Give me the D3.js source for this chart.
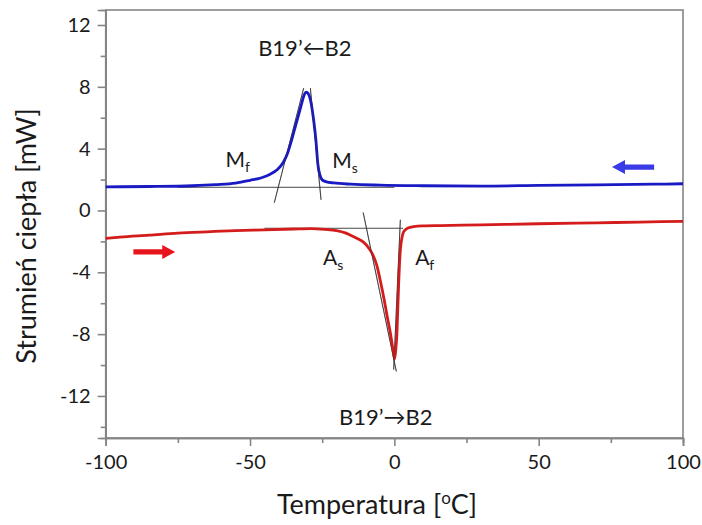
<!DOCTYPE html>
<html><head><meta charset="utf-8">
<script src="https://cdn.jsdelivr.net/npm/d3@7"></script>
<style>
html,body{margin:0;padding:0;background:#fff;}
text{font-family:Lato,"Open Sans",sans-serif;fill:#1a1a1a;}
</style></head>
<body><svg id="c" width="702" height="525"></svg>
<script>
// ---- data ----
const coolingT = [-100,-85,-70,-62,-55,-50,-46,-43,-40.5,-38.5,-37,-36,-34.5,-33,-32,-31.2,-30.5,-29.8,-29,-28,-27.2,-26.5,-25.8,-25,-23.5,-21,-15,-5,10,30,50,70,90,100];
const coolingV = [1.53,1.55,1.6,1.67,1.77,1.95,2.12,2.35,2.65,3.1,3.7,4.3,5.3,6.3,7.0,7.5,7.65,7.55,7.1,5.9,4.6,3.0,2.3,1.98,1.85,1.78,1.7,1.64,1.6,1.58,1.62,1.66,1.7,1.73];
const heatingT = [-100,-95,-85,-75,-65,-55,-45,-35,-29,-24,-20,-17,-15,-12.5,-10.7,-9,-7.5,-6,-4.8,-3.5,-2.5,-1.5,-0.8,-0.2,0.1,0.5,0.9,1.2,1.5,1.8,2.1,2.6,3.2,4.5,6.7,10,16,30,50,70,85,100];
const heatingV = [-1.8,-1.72,-1.6,-1.47,-1.38,-1.3,-1.25,-1.2,-1.17,-1.22,-1.3,-1.45,-1.62,-1.85,-2.05,-2.4,-2.85,-3.6,-4.6,-5.8,-6.85,-7.8,-8.6,-9.3,-9.6,-9.0,-7.9,-6.3,-4.7,-3.4,-2.5,-1.8,-1.38,-1.15,-1.04,-1.0,-0.98,-0.93,-0.86,-0.8,-0.75,-0.7];
// tangent construction lines [T1,V1,T2,V2]
const tangentLines = [
  [-75,1.5,0,1.5],
  [-41.6,0.5,-31.4,7.92],
  [-29.1,7.92,-25.4,0.69],
  [-45,-1.15,3,-1.15],
  [-10.8,-0.13,0.7,-10.42],
  [2.08,-0.6,-0.24,-10.3]
];
const xTicks = [-100,-50,0,50,100];
const xMinor = [-75,-25,25,75];
const yTicks = [12,8,4,0,-4,-8,-12];
const yMinor = [10,6,2,-2,-6,-10,-14];
// arrows: [Tstart, Tend, V]
const redArrow = [-90.4,-75.9,-2.68];
const blueArrow = [90,75.4,2.81];

const svg = d3.select('#c');
const x = d3.scaleLinear().domain([-100,100]).range([105.7,683]);
const y = d3.scaleLinear().domain([-14.72,12.97]).range([438,10]);
const axisCol = '#858585';
const fmt = d => String(d);

// frame
svg.append('rect').attr('x',x(-100)).attr('y',y(12.97)).attr('width',x(100)-x(-100)).attr('height',y(-14.72)-y(12.97))
  .attr('fill','none').attr('stroke',axisCol).attr('stroke-width',1.6);

// axes
const gx = svg.append('g').attr('transform',`translate(0,${y(-14.72)})`);
gx.call(d3.axisBottom(x).tickValues(xTicks).tickSize(8).tickPadding(9).tickFormat(fmt));
const gxm = svg.append('g').attr('transform',`translate(0,${y(-14.72)})`);
gxm.call(d3.axisBottom(x).tickValues(xMinor).tickSize(5).tickFormat(''));
const gy = svg.append('g').attr('transform',`translate(${x(-100)},0)`);
gy.call(d3.axisLeft(y).tickValues(yTicks).tickSize(8).tickPadding(7).tickFormat(fmt));
const gym = svg.append('g').attr('transform',`translate(${x(-100)},0)`);
gym.call(d3.axisLeft(y).tickValues(yMinor).tickSize(5).tickFormat(''));
[gx,gxm,gy,gym].forEach(g=>{
  g.select('.domain').attr('stroke',axisCol).attr('stroke-width',1.6);
  g.selectAll('.tick line').attr('stroke',axisCol).attr('stroke-width',1.6);
  g.selectAll('.tick text').attr('font-size',20).attr('fill','#1a1a1a').attr('font-family','Lato,"Open Sans",sans-serif');
});

// tangent lines
svg.append('g').selectAll('line').data(tangentLines).join('line')
  .attr('x1',d=>x(d[0])).attr('y1',d=>y(d[1])).attr('x2',d=>x(d[2])).attr('y2',d=>y(d[3]))
  .attr('stroke','#333').attr('stroke-width',0.9);

// curves
const line = d3.line().x(d=>x(d[0])).y(d=>y(d[1])).curve(d3.curveMonotoneX);
svg.append('path').datum(heatingT.map((t,i)=>[t,heatingV[i]])).attr('d',line)
  .attr('fill','none').attr('stroke','#d41c1c').attr('stroke-width',2.8).attr('stroke-linejoin','round');
svg.append('path').datum(coolingT.map((t,i)=>[t,coolingV[i]])).attr('d',line)
  .attr('fill','none').attr('stroke','#1a1ac4').attr('stroke-width',2.8).attr('stroke-linejoin','round');

// tangents faintly on top of the peaks
svg.append('g').selectAll('line').data(tangentLines.slice(1,3).concat(tangentLines.slice(4))).join('line')
  .attr('x1',d=>x(d[0])).attr('y1',d=>y(d[1])).attr('x2',d=>x(d[2])).attr('y2',d=>y(d[3]))
  .attr('stroke','#333').attr('stroke-width',0.6).attr('opacity',0.6);

// arrows
function arrow(a,col){
  const x0=x(a[0]), x1=x(a[1]), yy=y(a[2]);
  const dir = x1>x0?1:-1, head=13, hw=7, sw=2.6;
  const xb = x1-dir*head;
  const p = d3.path();
  p.moveTo(x0,yy-sw); p.lineTo(xb,yy-sw); p.lineTo(xb,yy-hw); p.lineTo(x1,yy);
  p.lineTo(xb,yy+hw); p.lineTo(xb,yy+sw); p.lineTo(x0,yy+sw); p.closePath();
  svg.append('path').attr('d',p.toString()).attr('fill',col);
}
arrow(redArrow,'#e8141c');
arrow(blueArrow,'#3a3ae6');

// annotations
function label(T,V,main,sub){
  const t = svg.append('text').attr('x',x(T)).attr('y',y(V)).attr('font-size',21);
  t.append('tspan').text(main);
  t.append('tspan').text(sub).attr('font-size',14).attr('dy',5);
}
label(-58.5,2.8,'M','f');
label(-21.5,2.75,'M','s');
label(-24.7,-3.55,'A','s');
label(7.2,-3.55,'A','f');
svg.append('text').attr('x',x(-31)).attr('y',y(10)).attr('text-anchor','middle').attr('font-size',22).text('B19’←B2');
svg.append('text').attr('x',x(-3)).attr('y',y(-13.85)).attr('text-anchor','middle').attr('font-size',22).text('B19’→B2');

// axis titles
const xt = svg.append('text').attr('x',377).attr('y',514).attr('text-anchor','middle').attr('font-size',27);
xt.append('tspan').text('Temperatura [');
xt.append('tspan').text('o').attr('font-size',17).attr('dy',-10);
xt.append('tspan').text('C]').attr('dy',10);
svg.append('text').attr('transform','translate(36,236) rotate(-90)').attr('text-anchor','middle').attr('font-size',27).text('Strumień ciepła [mW]');
</script></body></html>
